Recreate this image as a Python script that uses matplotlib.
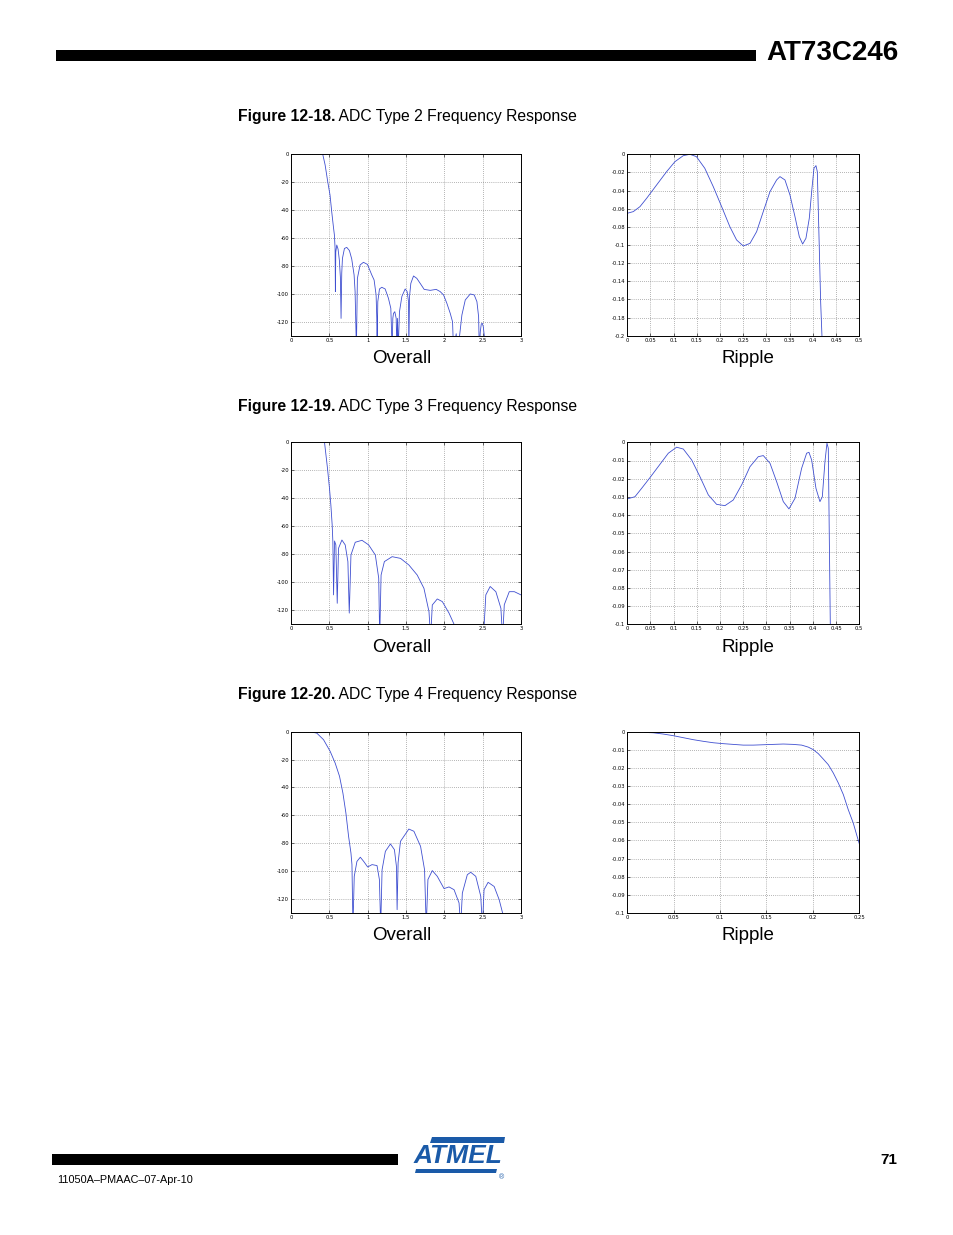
import matplotlib
matplotlib.use('Agg')
import matplotlib.pyplot as plt
from matplotlib.patches import Polygon, Rectangle

# ---- data ----
overall_xticks = [0, 0.5, 1, 1.5, 2, 2.5, 3]
overall_xlabels = ['0', '0.5', '1', '1.5', '2', '2.5', '3']
overall_yticks = [0, -20, -40, -60, -80, -100, -120]
overall_ylabels = ['0', '-20', '-40', '-60', '-80', '-100', '-120']

ripple_xticks = [0, 0.05, 0.1, 0.15, 0.2, 0.25, 0.3, 0.35, 0.4, 0.45, 0.5]
ripple_xlabels = ['0', '0.05', '0.1', '0.15', '0.2', '0.25', '0.3', '0.35', '0.4', '0.45', '0.5']
ripple4_xticks = [0, 0.05, 0.1, 0.15, 0.2, 0.25]
ripple4_xlabels = ['0', '0.05', '0.1', '0.15', '0.2', '0.25']
ripple2_yticks = [0, -0.02, -0.04, -0.06, -0.08, -0.1, -0.12, -0.14, -0.16, -0.18, -0.2]
ripple2_ylabels = ['0', '-0.02', '-0.04', '-0.06', '-0.08', '-0.1', '-0.12', '-0.14', '-0.16', '-0.18', '-0.2']
ripple3_yticks = [0, -0.01, -0.02, -0.03, -0.04, -0.05, -0.06, -0.07, -0.08, -0.09, -0.1]
ripple3_ylabels = ['0', '-0.01', '-0.02', '-0.03', '-0.04', '-0.05', '-0.06', '-0.07', '-0.08', '-0.09', '-0.1']

captions = ['Figure 12-18.', 'Figure 12-19.', 'Figure 12-20.']
caption_titles = [' ADC Type 2 Frequency Response', ' ADC Type 3 Frequency Response',
                  ' ADC Type 4 Frequency Response']

# Type 2
t2_overall_x = [0.414, 0.445, 0.479, 0.509, 0.531, 0.553, 0.566, 0.575, 0.579, 0.584, 0.597, 0.614,
                0.631, 0.644, 0.653, 0.662, 0.671, 0.697, 0.727, 0.762, 0.792, 0.823, 0.836, 0.853,
                0.866, 0.901, 0.945, 0.997, 1.054, 1.084, 1.110, 1.119, 1.123, 1.132, 1.154, 1.184,
                1.228, 1.271, 1.302, 1.319, 1.328, 1.337, 1.354, 1.372, 1.380, 1.389, 1.398, 1.415,
                1.446, 1.489, 1.515, 1.533, 1.537, 1.546, 1.563, 1.598, 1.641, 1.685, 1.737, 1.816,
                1.894, 1.946, 1.990, 2.033, 2.077, 2.107, 2.120, 2.155, 2.168, 2.199, 2.229, 2.273,
                2.338, 2.390, 2.425, 2.447, 2.456, 2.469, 2.482, 2.495, 2.508, 2.521, 2.530]
t2_overall_y = [0, -7.6, -19.6, -29.2, -41.1, -51.9, -57.8, -67.4, -98.4, -70.0, -65.0, -68.0,
                -76.0, -88.0, -117.6, -85.0, -74.6, -67.5, -66.7, -69.0, -75.0, -86.5, -98.4, -140,
                -88.9, -79.3, -77.4, -78.9, -86.5, -90.1, -100.8, -117.6, -140, -105.6, -96.5, -95.3,
                -96.5, -103.2, -110.4, -140, -117.6, -114.0, -112.8, -117.6, -140, -117.6, -140, -112.8,
                -101.9, -96.5, -98.4, -105.6, -140, -101.9, -92.5, -87.2, -88.9, -92.5, -96.8, -97.5,
                -96.8, -98.4, -100.8, -106.8, -114.0, -120.0, -140, -128.6, -140, -130.0, -115.2, -104.4,
                -100.1, -100.8, -105.6, -116.4, -140, -127.1, -121.6, -121.1, -123.5, -130.0, -140]

t2_ripple_x = [0, 0.0129, 0.0273, 0.0417, 0.0632, 0.0848, 0.1027, 0.1207, 0.135, 0.149, 0.167,
               0.1853, 0.2033, 0.221, 0.2356, 0.25, 0.2644, 0.2787, 0.293, 0.3075, 0.3218, 0.329,
               0.3398, 0.3506, 0.3614, 0.3707, 0.3779, 0.385, 0.3922, 0.398, 0.4023, 0.4066, 0.4095,
               0.4138, 0.4167, 0.4195, 0.421]
t2_ripple_y = [-0.065, -0.0632, -0.0577, -0.0485, -0.0338, -0.0191, -0.0081, -0.0015, 0.0, -0.0026,
               -0.0154, -0.0357, -0.0577, -0.0798, -0.0945, -0.1011, -0.0982, -0.0853, -0.0632,
               -0.0412, -0.0283, -0.0246, -0.0283, -0.0449, -0.0688, -0.0908, -0.0989, -0.0926,
               -0.0706, -0.0375, -0.0154, -0.0125, -0.0191, -0.1037, -0.1625, -0.2, -0.25]

# Type 3
t3_overall_x = [0.437, 0.476, 0.502, 0.520, 0.537, 0.546, 0.555, 0.568, 0.585, 0.603, 0.620, 0.664,
                0.707, 0.742, 0.760, 0.782, 0.838, 0.926, 1.013, 1.100, 1.144, 1.157, 1.175, 1.218,
                1.319, 1.428, 1.537, 1.646, 1.734, 1.800, 1.821, 1.843, 1.908, 1.974, 2.061, 2.127,
                2.140, 2.510, 2.520, 2.541, 2.598, 2.672, 2.738, 2.760, 2.782, 2.847, 2.913, 3.0]
t3_overall_y = [0, -18.6, -32.9, -44.8, -59.0, -71.0, -109.0, -70.5, -73.3, -115.0, -75.7, -69.8,
                -73.3, -85.2, -122.0, -80.5, -71.4, -70.0, -73.3, -80.5, -97.0, -140, -94.8, -85.2,
                -81.7, -82.9, -87.6, -94.8, -104.3, -121.0, -140, -116.2, -111.9, -113.8, -122.0, -130.0,
                -140, -140, -130, -109.0, -103.0, -106.7, -118.6, -140, -116.0, -106.7, -106.7, -109.0]

t3_ripple_x = [0, 0.0165, 0.0309, 0.0489, 0.0704, 0.0884, 0.1063, 0.1207, 0.1387, 0.1566, 0.1746,
               0.1925, 0.2105, 0.2284, 0.2464, 0.2644, 0.2823, 0.2931, 0.3075, 0.3218, 0.3362, 0.3484,
               0.3614, 0.3757, 0.3865, 0.3915, 0.3973, 0.4066, 0.4152, 0.4203, 0.426, 0.4303, 0.4332,
               0.4353, 0.4375, 0.439]
t3_ripple_y = [-0.0311, -0.0299, -0.0253, -0.0194, -0.0121, -0.006, -0.0027, -0.0037, -0.0097,
               -0.0189, -0.0289, -0.0341, -0.0348, -0.0317, -0.0234, -0.0134, -0.0079, -0.0073,
               -0.0115, -0.0216, -0.0326, -0.0366, -0.0308, -0.0143, -0.006, -0.0055, -0.0097,
               -0.0253, -0.0326, -0.0299, -0.0106, -0.0005, -0.0033, -0.0509, -0.1, -0.15]

# Type 4
t4_overall_x = [0.271, 0.336, 0.424, 0.511, 0.576, 0.633, 0.677, 0.716, 0.751, 0.782, 0.795, 0.808,
                0.825, 0.860, 0.904, 0.948, 1.000, 1.057, 1.122, 1.153, 1.170, 1.188, 1.231, 1.297,
                1.349, 1.375, 1.384, 1.397, 1.428, 1.537, 1.603, 1.690, 1.742, 1.764, 1.786, 1.843,
                1.908, 1.996, 2.061, 2.127, 2.192, 2.213, 2.235, 2.300, 2.344, 2.410, 2.475, 2.497,
                2.518, 2.571, 2.650, 2.715, 2.760, 2.775]
t4_overall_y = [-0.3, -1.0, -5.7, -14.1, -22.5, -32.0, -44.0, -58.3, -75.0, -87.0, -95.3, -140,
                -103.7, -93.0, -90.0, -93.0, -97.0, -95.3, -96.0, -106.0, -140, -99.0, -85.8, -80.5,
                -84.6, -96.5, -127.6, -94.0, -78.6, -69.8, -71.4, -82.2, -99.0, -140, -106.0, -99.6,
                -103.7, -112.5, -111.3, -113.3, -122.8, -140, -115.7, -102.5, -100.8, -103.7, -118.0, -140,
                -113.3, -108.0, -111.0, -120.4, -130.0, -140]

t4_ripple_x = [0.0187, 0.028, 0.0388, 0.0496, 0.0603, 0.0711, 0.0819, 0.0927, 0.1034, 0.1142, 0.125,
               0.1358, 0.1466, 0.1573, 0.1681, 0.1789, 0.1879, 0.195, 0.2004, 0.2058, 0.2112, 0.2166,
               0.222, 0.2274, 0.2328, 0.2381, 0.2435, 0.2471, 0.25]
t4_ripple_y = [-0.0004, -0.0006, -0.0013, -0.0022, -0.0033, -0.0044, -0.0053, -0.0061, -0.0066,
               -0.007, -0.0074, -0.0074, -0.0072, -0.007, -0.0068, -0.007, -0.0074, -0.0085, -0.0099,
               -0.0121, -0.0151, -0.0182, -0.0228, -0.0283, -0.0347, -0.043, -0.0504, -0.0568, -0.0618]

# ---- page layout (pixels) ----
W, H = 954, 1235
LINE_COLOR = '#3f4fd0'
plt.rcParams['font.family'] = ['Liberation Sans', 'DejaVu Sans']


def px_rect(left, top, right, bottom):
    return [left / W, 1 - bottom / H, (right - left) / W, (bottom - top) / H]


def setup_axes(ax, xlim, ylim, xticks, xlabels, yticks, ylabels):
    ax.set_xlim(*xlim)
    ax.set_ylim(*ylim)
    ax.set_xticks(xticks)
    ax.set_xticklabels(xlabels)
    ax.set_yticks(yticks)
    ax.set_yticklabels(ylabels)
    ax.tick_params(direction='in', length=2, width=0.4, labelsize=3.8, pad=1.5,
                   top=True, right=True)
    for lab in ax.get_xticklabels() + ax.get_yticklabels():
        lab.set_family('DejaVu Sans')
    ax.grid(True, color='#707070', linestyle=(0, (1, 2)), linewidth=0.5)
    for s in ax.spines.values():
        s.set_linewidth(0.7)


fig = plt.figure(figsize=(W / 100, H / 100), dpi=100)
fig.patch.set_facecolor('white')

page = fig.add_axes([0, 0, 1, 1])
page.set_xlim(0, W)
page.set_ylim(H, 0)
page.axis('off')

# header
page.add_patch(Rectangle((56, 50), 700, 11, color='black', lw=0))
page.text(899, 53, 'AT73C246', ha='right', va='center', fontsize=20, fontweight='bold')

# footer
page.add_patch(Rectangle((52, 1154), 346, 11, color='black', lw=0))
page.text(57, 1180, '11050A\u2013PMAAC\u201307-Apr-10', ha='left', va='center', fontsize=7.8)
page.text(897, 1160, '71', ha='right', va='center', fontsize=11, fontweight='bold')

# Atmel logo
blue = '#1a5aa8'
page.add_patch(Polygon([(432, 1137), (505, 1137), (504, 1143), (430, 1143)], closed=True,
                       color=blue, lw=0))
page.add_patch(Polygon([(416, 1169), (497, 1169), (496, 1173), (415, 1173)], closed=True,
                       color=blue, lw=0))
page.text(458, 1156, 'ATMEL', ha='center', va='center', fontsize=19, fontweight='heavy',
          style='italic', color=blue)
page.text(502, 1178, '\u00ae', ha='center', va='center', fontsize=5, color=blue)

# captions
fig.canvas.draw()
renderer = fig.canvas.get_renderer()
caption_y = [117, 406, 695]
for cap, title, cy in zip(captions, caption_titles, caption_y):
    t = page.text(238, cy, cap, ha='left', va='center', fontsize=11.3, fontweight='bold')
    bb = t.get_window_extent(renderer)
    page.text(238 + bb.width, cy, title, ha='left', va='center', fontsize=11.3)

# plots
rows = [(154.3, 335.7), (442.3, 624.3), (731.7, 913.0)]
overall_data = [(t2_overall_x, t2_overall_y), (t3_overall_x, t3_overall_y),
                (t4_overall_x, t4_overall_y)]
ripple_data = [(t2_ripple_x, t2_ripple_y), (t3_ripple_x, t3_ripple_y),
               (t4_ripple_x, t4_ripple_y)]
ripple_setup = [
    ((0, 0.5), (-0.2, 0), ripple_xticks, ripple_xlabels, ripple2_yticks, ripple2_ylabels),
    ((0, 0.5), (-0.1, 0), ripple_xticks, ripple_xlabels, ripple3_yticks, ripple3_ylabels),
    ((0, 0.25), (-0.1, 0), ripple4_xticks, ripple4_xlabels, ripple3_yticks, ripple3_ylabels),
]

for (top, bottom), (ox, oy), (rx, ry), rset in zip(rows, overall_data, ripple_data, ripple_setup):
    ax1 = fig.add_axes(px_rect(291, top, 521, bottom))
    setup_axes(ax1, (0, 3), (-130, 0), overall_xticks, overall_xlabels,
               overall_yticks, overall_ylabels)
    ax1.plot(ox, oy, color=LINE_COLOR, lw=0.6)

    ax2 = fig.add_axes(px_rect(627.3, top, 859.3, bottom))
    setup_axes(ax2, *rset)
    ax2.plot(rx, ry, color=LINE_COLOR, lw=0.6)

    page.text(402, bottom + 23, 'Overall', ha='center', va='center', fontsize=13.5)
    page.text(748, bottom + 23, 'Ripple', ha='center', va='center', fontsize=13.5)

fig.savefig('out.png', dpi=100)
